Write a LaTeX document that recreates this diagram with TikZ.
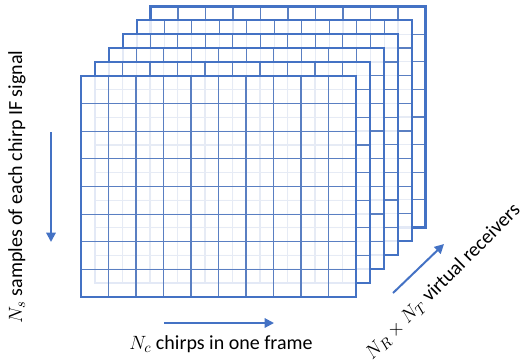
\documentclass[tikz,border=0pt]{standalone}
\usepackage{fontspec}
\setmainfont{Carlito}
\usetikzlibrary{arrows.meta}
\definecolor{frameblue}{HTML}{4472C4}
\definecolor{gridblue}{HTML}{5A7FC2}
\tikzset{
  framebox/.style={draw=frameblue, line width=1.6pt},
  gridline/.style={draw=gridblue, line width=0.9pt},
  bluearrow/.style={draw=frameblue, line width=1.5pt, -{Triangle[length=7pt,width=7pt]}},
  lab/.style={font=\fontsize{15}{17}\selectfont, inner sep=0pt}
}
\begin{document}
\begin{tikzpicture}[x=0.75pt,y=-0.75pt]
\useasboundingbox (0,0) rectangle (524,362);
\foreach \i in {5,...,0} {
  \begin{scope}[shift={(81+13.9*\i,76-13.9*\i)}]
    \fill[white, fill opacity=0.85] (0,0) rectangle (275,221);
    \foreach \c in {1,...,9} \draw[gridline] (\c*27.5,0) -- (\c*27.5,221);
    \foreach \r in {1,...,7} \draw[gridline] (0,\r*27.625) -- (275,\r*27.625);
    \draw[framebox] (0,0) rectangle (275,221);
  \end{scope}
}
% arrows
\coordinate (va) at (51,132);
\coordinate (vb) at (51,242);
\coordinate (ha) at (164,323);
\coordinate (hb) at (274,323);
\coordinate (da) at (393,293);
\coordinate (db) at (444,244);
\draw[bluearrow] (va) -- (vb);
\draw[bluearrow] (ha) -- (hb);
\draw[bluearrow] (da) -- (db);
% labels
\node[lab, rotate=90] (ylab) at (17,187) {$N_s$ samples of each chirp IF signal};
\node[lab] (xlab) at (221,344) {$N_c$ chirps in one frame};
\node[lab, rotate=45] (zlab) at (443,282) {$N_R\times N_T$ virtual receivers};
\end{tikzpicture}
\end{document}
